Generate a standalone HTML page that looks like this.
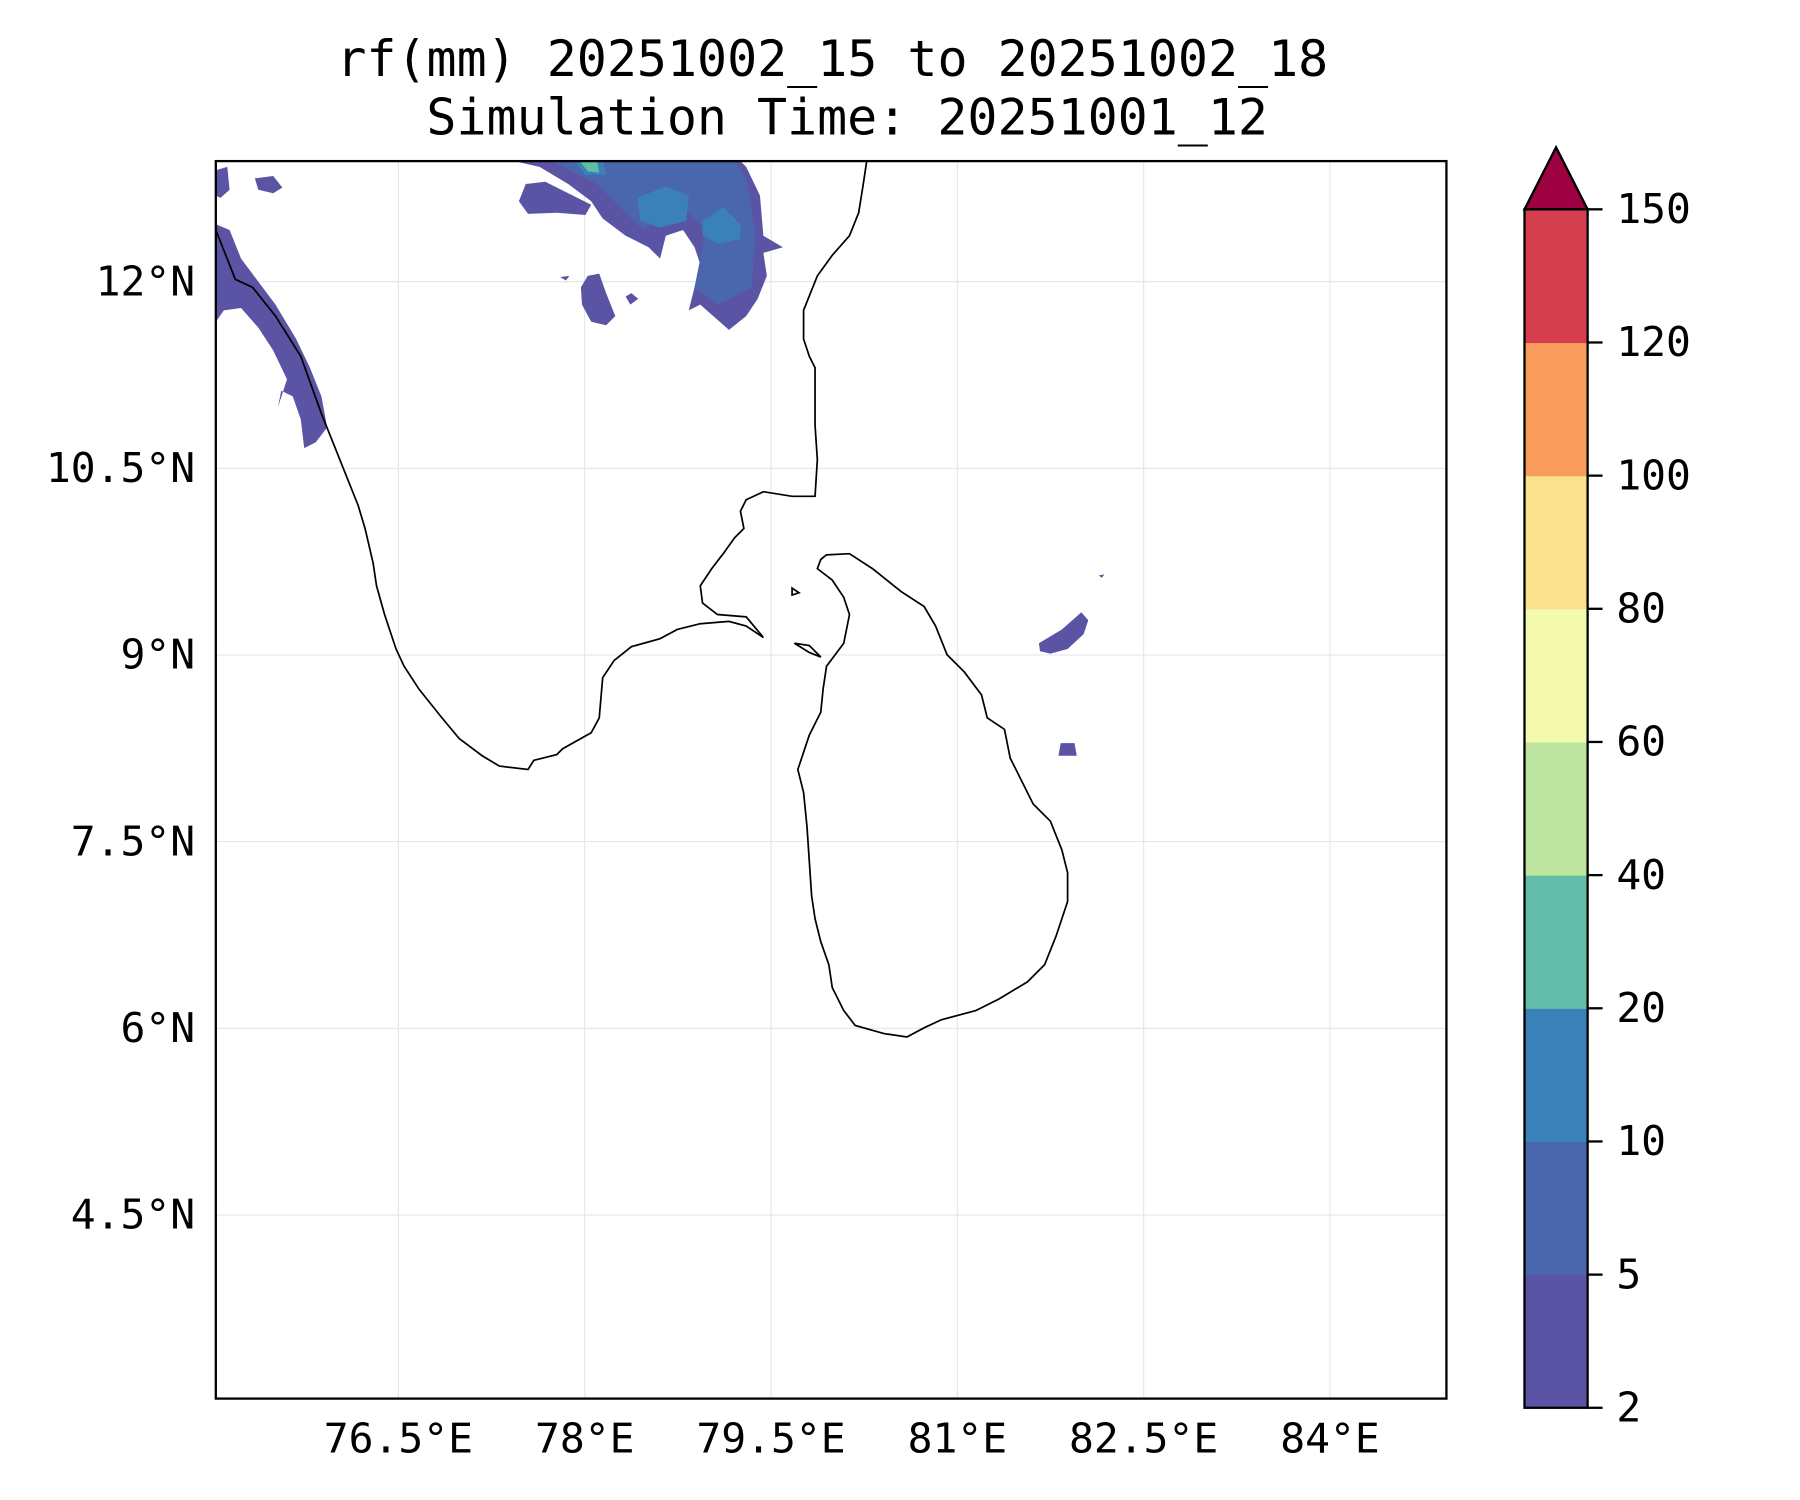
<!DOCTYPE html>
<html><head><meta charset="utf-8"><style>
html,body{margin:0;padding:0;background:#fff}
svg{display:block}
text{font-family:"DejaVu Sans Mono","Liberation Mono",monospace;fill:#000}
</style></head><body>
<svg width="1800" height="1500" viewBox="0 0 1568 1306" xmlns="http://www.w3.org/2000/svg">
<text x="725" y="66" font-size="43.5" text-anchor="middle">rf(mm) 20251002_15 to 20251002_18</text>
<text x="738" y="117" font-size="43.5" text-anchor="middle">Simulation Time: 20251001_12</text>
<g id="grid" stroke="#e6e6e6" stroke-width="1"></g>
<g>
<g fill="#5b53a4">
<path d="M188,195 L200,200 L210,225 L225,245 L240,265 L258,295 L270,320 L280,345 L285,372 L275,385 L265,390 L262,365 L255,345 L245,340 L242,355 L250,330 L238,305 L225,285 L210,268 L195,270 L188,280 Z"/>
<path d="M188,148 L198,145 L200,165 L192,172 L188,170 Z"/>
<path d="M222,155 L238,153 L246,163 L238,168 L225,165 Z"/>
<path d="M448,140 L470,145 L495,160 L515,175 L525,190 L545,205 L565,215 L575,225 L580,205 L595,200 L605,215 L610,230 L600,270 L610,265 L635,287 L650,275 L660,260 L668,240 L665,220 L682,215 L665,205 L662,170 L650,145 L645,140 Z"/>
<path d="M458,160 L475,158 L495,168 L515,178 L510,187 L485,185 L460,186 L452,175 Z"/>
<path d="M512,240 L522,238 L528,255 L536,275 L528,283 L515,280 L507,265 L506,250 Z"/>
<path d="M545,258 L550,255 L556,260 L549,265 Z"/>
<path d="M488,241 L496,240 L493,244 Z"/>
<path d="M905,560 L925,548 L942,533 L948,540 L944,552 L930,565 L915,569 L906,567 Z"/>
<path d="M924,647 L936,647 L938,658 L922,658 Z"/>
<path d="M957,501 L962,500 L960,503 Z"/>
</g>
<path fill="#4a66ad" d="M480,140 L520,160 L540,180 L560,200 L575,190 L600,185 L615,200 L605,250 L625,265 L655,250 L658,200 L650,155 L640,140 Z"/>
<path fill="#3a80b9" d="M555,172 L580,162 L600,170 L598,192 L575,198 L558,192 Z M612,192 L630,180 L645,195 L645,208 L625,212 L612,205 Z M500,140 L525,140 L528,152 L510,152 Z"/>
<path fill="#62bda8" d="M505,140 L520,140 L522,150 L512,149 Z"/>
</g>
<g fill="none" stroke="#000" stroke-width="1.5">
<path d="M188,200 L205,243 L220,250 L240,275 L262,310 L280,360 L290,385 L300,410 L312,440 L318,460 L325,490 L328,510 L335,535 L345,565 L352,580 L365,600 L385,625 L400,643 L420,658 L435,667 L460,670 L465,662 L485,657 L490,652 L515,638 L522,625 L525,590 L535,575 L550,563 L575,556 L590,548 L610,543 L635,541 L650,545 L665,555 L650,537 L625,535 L612,525 L610,510 L620,495 L630,482 L640,468 L648,460 L645,445 L650,435 L665,428 L690,432 L710,432 L712,400 L710,370 L710,320 L705,310 L700,295 L700,270 L706,255 L712,240 L725,222 L740,205 L748,185 L752,160 L755,140"/>
<path d="M720,483 L740,482 L760,495 L785,515 L805,528 L815,545 L825,570 L840,585 L855,605 L860,625 L875,635 L880,660 L890,680 L900,700 L915,715 L925,740 L930,760 L930,785 L920,815 L910,840 L895,855 L870,870 L850,880 L820,888 L805,895 L790,903 L770,900 L745,893 L735,880 L725,860 L722,840 L715,820 L710,800 L707,780 L705,750 L703,720 L700,690 L695,670 L700,655 L705,640 L715,620 L717,600 L720,580 L735,560 L740,535 L735,520 L725,505 L712,495 L715,487 Z"/>
<path d="M692,560 L705,562 L715,572 L705,568 Z M690,512 L696,516 L690,518 Z"/>
</g>
<rect x="188" y="140" width="1072" height="1078" fill="none" stroke="#000" stroke-width="2"/>
<g id="xticks"></g>
<g id="yticks"></g>
<g id="cbar"></g>
<script>
const lonTicks=[76.5,78,79.5,81,82.5,84];
const lonLabels=["76.5°E","78°E","79.5°E","81°E","82.5°E","84°E"];
const latTicks=[12,10.5,9,7.5,6,4.5];
const latLabels=["12°N","10.5°N","9°N","7.5°N","6°N","4.5°N"];
const cbLevels=["2","5","10","20","40","60","80","100","120","150"];
const cbColors=["#5b53a4","#4a66ad","#3a80b9","#62bda8","#bde59f","#f3faad","#fbe08e","#f99b5b","#d53e4f"];
const NS="http://www.w3.org/2000/svg";
function xs(lon){return 188+(lon-75.03)*108.2;}
function ys(lat){return 245+(12-lat)*108.4;}
function mk(t,a,p){const e=document.createElementNS(NS,t);for(const k in a)e.setAttribute(k,a[k]);p.appendChild(e);return e;}
const grid=document.getElementById('grid'),xg=document.getElementById('xticks'),yg=document.getElementById('yticks'),cb=document.getElementById('cbar');
lonTicks.forEach((v,i)=>{const x=xs(v);
const l=mk('line',{x1:x,x2:x,y1:140,y2:1218},grid);


const t=mk('text',{x:x,y:1265,'font-size':36,'text-anchor':'middle'},xg);t.textContent=lonLabels[i];

});
latTicks.forEach((v,i)=>{const y=ys(v);
const l=mk('line',{x1:188,x2:1260,y1:y,y2:y},grid);


const t=mk('text',{x:170,y:y+12,'font-size':36,'text-anchor':'end'},yg);t.textContent=latLabels[i];

});
const cbTop=182,cbBot=1226,step=(cbBot-cbTop)/(cbLevels.length-1);
cbColors.forEach((c,i)=>{const r=mk('rect',{x:1328,y:cbBot-(i+1)*step,width:55,height:step+0.5,fill:c},cb);

});
const ar=mk('path',{d:`M1328,${cbTop} L1355.5,128 L1383,${cbTop} Z`,fill:'#9e0142',stroke:'#000','stroke-width':2},cb);


const fr=mk('rect',{x:1328,y:cbTop,width:55,height:cbBot-cbTop,fill:'none',stroke:'#000','stroke-width':2},cb);


cbLevels.forEach((v,i)=>{const y=cbBot-i*step;
const tk=mk('line',{x1:1383,x2:1396,y1:y,y2:y,stroke:'#000','stroke-width':2},cb);


const t=mk('text',{x:1408,y:y+12,'font-size':36},cb);t.textContent=v;

});
</script>
</svg>
</body></html>
